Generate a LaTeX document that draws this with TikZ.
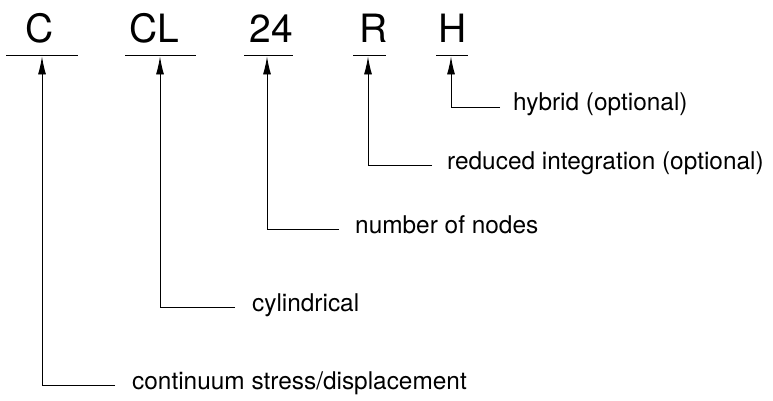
\documentclass[tikz,border=0pt]{standalone}
\usepackage{fontspec}
\setmainfont{TeX Gyre Heros}
\usetikzlibrary{arrows.meta}
\begin{document}
\begin{tikzpicture}[x=1pt,y=-1pt,
  big/.style={font=\fontsize{39}{39}\selectfont, inner sep=0pt, anchor=base},
  lab/.style={font=\fontsize{24.4}{26}\selectfont, inner sep=0pt, anchor=base west},
  conn/.style={line width=0.9pt, -{Latex[length=18pt,width=8pt]}},
  uline/.style={line width=0.9pt}]
\useasboundingbox (0,0) rectangle (773,401);
% code letters
\node[big] (C)  at (40,43)  {C};
\node[big] (CL) at (154,43) {CL};
\node[big] (N)  at (271,43) {24};
\node[big] (R)  at (374,43) {R};
\node[big] (H)  at (453,43) {H};
% underlines
\draw[uline] (6,55) -- (78,55);
\draw[uline] (125,55) -- (196,55);
\draw[uline] (244,55) -- (293,55);
\draw[uline] (353,55) -- (386,55);
\draw[uline] (436,55) -- (468,55);
% arrow targets
\coordinate (uC)  at (42,56.5);
\coordinate (uCL) at (160,56.5);
\coordinate (uN)  at (267,56.5);
\coordinate (uR)  at (368,56.5);
\coordinate (uH)  at (451,56.5);
% line ends
\coordinate (eC)  at (115,385);
\coordinate (eCL) at (235,307);
\coordinate (eN)  at (339,229);
\coordinate (eR)  at (432,165);
\coordinate (eH)  at (500,107);
% labels
\node[lab] (lC)  at ([xshift=17pt,yshift=-4pt]eC)  {continuum stress/displacement};
\node[lab] (lCL) at ([xshift=17pt,yshift=-4pt]eCL) {cylindrical};
\node[lab] (lN)  at ([xshift=16pt,yshift=-4pt]eN)  {number of nodes};
\node[lab] (lR)  at ([xshift=15pt,yshift=-4pt]eR)  {reduced integration (optional)};
\node[lab] (lH)  at ([xshift=13pt,yshift=-4pt]eH)  {hybrid (optional)};
% connectors
\draw[conn] (eC)  -| (uC);
\draw[conn] (eCL) -| (uCL);
\draw[conn] (eN)  -| (uN);
\draw[conn] (eR)  -| (uR);
\draw[conn] (eH)  -| (uH);
\end{tikzpicture}
\end{document}
